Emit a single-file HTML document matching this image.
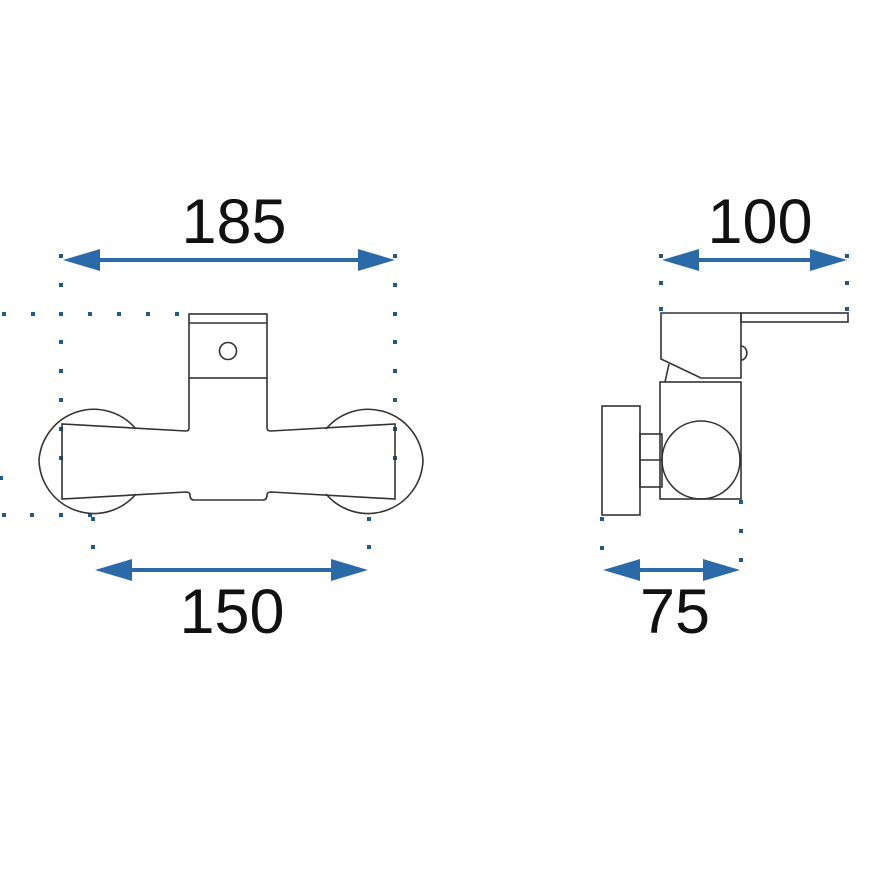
<!DOCTYPE html>
<html><head><style>html,body{margin:0;padding:0;background:#fff}</style></head>
<body>
<svg width="870" height="870" viewBox="0 0 870 870" xmlns="http://www.w3.org/2000/svg">
<defs>
<g id="d"><rect x="-2" y="-2" width="4" height="4" fill="#1f5a8a"/></g>
</defs>
<rect width="870" height="870" fill="#fff"/>
<g fill="#1f5a8a">
<!-- top horizontal left dots y=314 -->
<rect x="2" y="312" width="4" height="4"/><rect x="31" y="312" width="4" height="4"/><rect x="59" y="312" width="4" height="4"/><rect x="88" y="312" width="4" height="4"/><rect x="117" y="312" width="4" height="4"/><rect x="146" y="312" width="4" height="4"/><rect x="175" y="312" width="4" height="4"/>
<!-- left vertical x=61 -->
<rect x="59" y="254" width="4" height="4"/><rect x="59" y="283" width="4" height="4"/><rect x="59" y="340" width="4" height="4"/><rect x="59" y="369" width="4" height="4"/><rect x="59" y="398" width="4" height="4"/><rect x="59" y="427" width="4" height="4"/><rect x="59" y="456" width="4" height="4"/>
<!-- right vertical x=395 -->
<rect x="393" y="254" width="4" height="4"/><rect x="393" y="283" width="4" height="4"/><rect x="393" y="312" width="4" height="4"/><rect x="393" y="340" width="4" height="4"/><rect x="393" y="369" width="4" height="4"/><rect x="393" y="398" width="4" height="4"/><rect x="393" y="427" width="4" height="4"/><rect x="393" y="456" width="4" height="4"/>
<!-- bottom horizontal y=515 -->
<rect x="2" y="513" width="4" height="4"/><rect x="30" y="513" width="4" height="4"/><rect x="59" y="513" width="4" height="4"/><rect x="88" y="513" width="4" height="4"/><rect x="91" y="517" width="4" height="4"/><rect x="91" y="545" width="4" height="4"/>
<rect x="367" y="517" width="4" height="4"/><rect x="367" y="545" width="4" height="4"/>
<rect x="0" y="476" width="3" height="4"/>
<!-- right drawing dots -->
<rect x="659" y="254" width="4" height="4"/><rect x="659" y="281" width="4" height="4"/><rect x="659" y="307" width="4" height="4"/>
<rect x="845" y="254" width="4" height="4"/><rect x="845" y="281" width="4" height="4"/><rect x="845" y="307" width="4" height="4"/>
<rect x="739" y="500" width="4" height="4"/><rect x="739" y="529" width="4" height="4"/><rect x="739" y="558" width="4" height="4"/>
<rect x="600" y="517" width="4" height="4"/><rect x="600" y="546" width="4" height="4"/>
</g>
<g fill="#2a6aa8" stroke="none">
<rect x="95" y="258" width="265" height="4"/><polygon points="63,260 100,249 100,271"/><polygon points="395,260 358,249 358,271"/>
<rect x="125" y="568" width="215" height="4"/><polygon points="95,570 132,559 132,581"/><polygon points="368,570 331,559 331,581"/>
<rect x="690" y="258" width="130" height="4"/><polygon points="662,260 699,249 699,271"/><polygon points="847,260 810,249 810,271"/>
<rect x="630" y="568" width="85" height="4"/><polygon points="603,570 640,559 640,581"/><polygon points="740,570 703,559 703,581"/>
</g>
<g font-family="Liberation Sans, sans-serif" font-size="63" fill="#111" text-anchor="middle">
<text x="234" y="243">185</text>
<text x="232" y="633">150</text>
<text x="760" y="243">100</text>
<text x="675" y="633">75</text>
</g>
<g fill="none" stroke="#333" stroke-width="1.6">
<!-- left drawing -->
<path d="M136,429 A55,55 0 0 0 39,460 A55,55 0 0 0 136,494"/>
<path d="M326,429 A55,55 0 0 1 423,460 A55,55 0 0 1 326,494"/>
<rect x="189" y="314" width="78" height="64"/>
<line x1="189" y1="323" x2="267" y2="323"/>
<circle cx="228" cy="351" r="8.5"/>
<path d="M189,378 L189,428 Q189,431 186,431 L62,424 L62,499 L186,492 Q190,492 190,495 Q190,500 194,500 L263,500 Q267,500 267,495 Q267,492 271,492 L395,499 L395,424 L271,431 Q267,431 267,428 L267,378"/>
<!-- right drawing -->
<path d="M661,313 L741,313 L741,378 L701,378 L661,359 Z"/>
<rect x="741" y="313" width="107" height="9"/>
<path d="M741,346 A5,6 0 0 1 741,360"/>
<line x1="669" y1="364" x2="665" y2="382"/>
<rect x="660" y="382" width="81" height="117"/>
<circle cx="701" cy="460" r="39"/>
<rect x="602" y="406" width="38" height="109"/>
<rect x="640" y="434" width="22" height="53"/>
<line x1="640" y1="460" x2="662" y2="460"/>
</g>
</svg>
</body></html>
